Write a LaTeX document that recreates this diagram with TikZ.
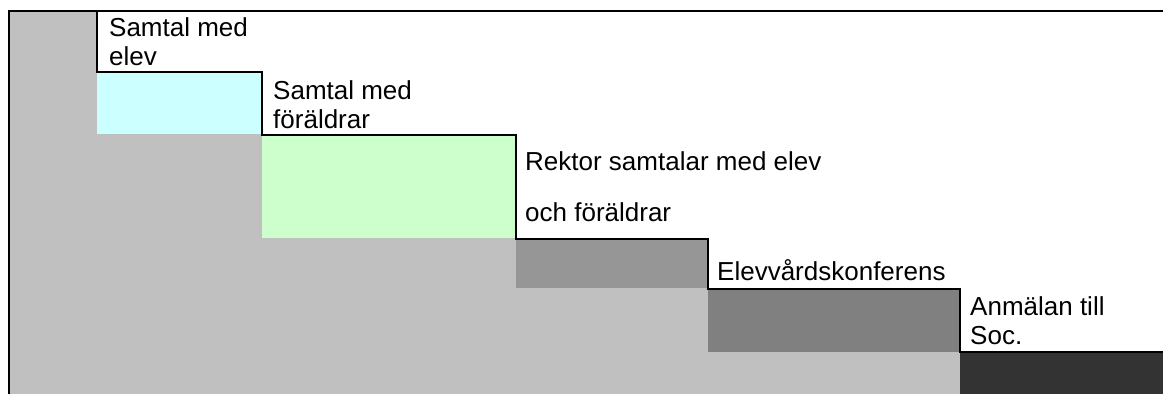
\documentclass[tikz,border=0pt]{standalone}
\usepackage{fontspec}
\setmainfont{Liberation Sans}
\usetikzlibrary{positioning}

\definecolor{trappgra}{HTML}{C0C0C0}
\definecolor{ljuscyan}{HTML}{CCFFFF}
\definecolor{ljusgron}{HTML}{CCFFCC}
\definecolor{mellangra}{HTML}{969696}
\definecolor{morkgra}{HTML}{808080}
\definecolor{svartgra}{HTML}{333333}

\tikzset{
  steptext/.style={anchor=base west, inner sep=0pt, align=left, font=\fontsize{26pt}{29pt}\selectfont},
  trappa/.style={line width=2.4pt, line join=miter}
}

\begin{document}
\begin{tikzpicture}[x=1pt, y=-1pt]
\useasboundingbox (0,0) rectangle (1163,394);

\fill [trappgra] (9,11) rectangle (1163,394);
\fill [white] (97,11) -- (1163,11) -- (1163,352) -- (960,352) -- (960,289) -- (708,289) -- (708,239) -- (516,239) -- (516,135) -- (262,135) -- (262,72) -- (97,72) -- cycle;

\fill [ljuscyan] (97,72) rectangle (262,134);
\fill [ljusgron] (262,135) rectangle (516,238);
\fill [mellangra] (516,239) rectangle (708,288);
\fill [morkgra] (708,289) rectangle (960,352);
\fill [svartgra] (960,352) rectangle (1163,394);

\draw [trappa] (9,394) -- (9,11) -- (1163,11);
\draw [trappa] (97,11) -- (97,72) -- (262,72) -- (262,135) -- (516,135) -- (516,239) -- (708,239) -- (708,289) -- (960,289) -- (960,352) -- (1163,352);

\node [steptext] (elev) at (109,65) {Samtal med\\elev};
\node [steptext] (foraldrar) at (273,128) {Samtal med\\föräldrar};
\node [steptext] (rektor) at (525,221) {Rektor samtalar med elev\\[22pt]och föräldrar};
\node [steptext] (evk) at (717,280) {Elevvårdskonferens};
\node [steptext] (soc) at (970,344) {Anmälan till\\Soc.};
\end{tikzpicture}
\end{document}
